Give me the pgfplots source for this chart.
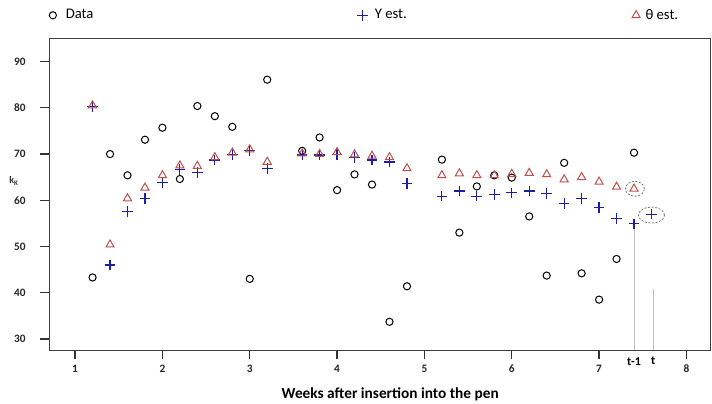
\documentclass[border=0pt]{standalone}
\usepackage{fontspec}
\setmainfont{Carlito}
\usepackage{pgfplots}
\pgfplotsset{compat=1.18}
\usepackage{pgfplotstable}
\usetikzlibrary{calc}
\definecolor{navyc}{HTML}{1E1EA0}
\definecolor{redc}{HTML}{C0504D}

\pgfplotstableread{
x y
1.2 43.3
1.4 70.0
1.6 65.4
1.8 73.1
2.0 75.7
2.2 64.6
2.4 80.4
2.6 78.2
2.8 75.9
3.0 43.0
3.2 86.1
3.6 70.7
3.8 73.6
4.0 62.2
4.2 65.6
4.4 63.4
4.6 33.7
4.8 41.4
5.2 68.8
5.4 53.0
5.6 63.0
5.8 65.4
6.0 64.9
6.2 56.5
6.4 43.7
6.6 68.1
6.8 44.2
7.0 38.5
7.2 47.3
7.4 70.3
}\dataobs

\pgfplotstableread{
x y
1.2 80.3
1.4 46.0
1.6 57.5
1.8 60.4
2.0 63.8
2.2 66.7
2.4 66.0
2.6 68.7
2.8 69.9
3.0 70.7
3.2 66.9
3.6 69.8
3.8 69.8
4.0 69.9
4.2 69.3
4.4 68.7
4.6 68.3
4.8 63.6
5.2 60.9
5.4 62.0
5.6 60.9
5.8 61.3
6.0 61.6
6.2 62.0
6.4 61.5
6.6 59.3
6.8 60.4
7.0 58.4
7.2 56.0
7.4 54.9
7.6 57.0
}\dataY

\pgfplotstableread{
x y
1.2 80.5
1.4 50.4
1.6 60.4
1.8 62.7
2.0 65.4
2.2 67.5
2.4 67.4
2.6 69.3
2.8 70.3
3.0 71.0
3.2 68.3
3.6 70.1
3.8 70.0
4.0 70.4
4.2 69.9
4.4 69.6
4.6 69.3
4.8 66.9
5.2 65.4
5.4 65.8
5.6 65.4
5.8 65.4
6.0 65.7
6.2 65.9
6.4 65.6
6.6 64.5
6.8 65.0
7.0 64.0
7.2 62.9
7.4 62.5
}\dataT

\begin{document}
\begin{tikzpicture}
\begin{axis}[
  name=ax,
  scale only axis,
  width=495.5pt, height=233.8pt,
  xmin=0.705, xmax=8.27,
  ymin=27.6, ymax=95.06,
  xtick={1,2,3,4,5,6,7,8},
  ytick={30,40,50,60,70,80,90},
  tick align=outside,
  tick pos=left,
  major tick length=6.75pt,
  axis line style={black!75, line width=0.6pt},
  every tick/.style={black!80, line width=0.9pt},
  /pgf/number format/assume math mode=true,
  tick label style={font=\bfseries\fontsize{8.5}{10}\selectfont, text=black!85},
  xticklabel style={yshift=-1pt},
  yticklabel style={xshift=-7.5pt},
  clip=false,
  xlabel={\bfseries Weeks after insertion into the pen},
  xlabel style={font=\fontsize{11.5}{13}\selectfont, at={(rel axis cs:0.5,0)}, anchor=north, xshift=7.9pt, yshift=-25pt},
  legend columns=3,
  legend style={draw=none, fill=none, at={(rel axis cs:0,1)}, anchor=west,
    xshift=-0.25pt, yshift=17.25pt, inner sep=0pt,
    font=\fontsize{11}{13}\selectfont,
    /tikz/column 1/.style={column sep=5pt},
    /tikz/column 3/.style={column sep=3pt},
    /tikz/column 5/.style={column sep=2pt},
    /tikz/column 2/.style={column sep=196pt},
    /tikz/column 4/.style={column sep=167pt}},
]
\addplot[black, only marks, mark=o, mark size=2.7pt, mark options={black, line width=0.75pt}] table {\dataobs};
\addlegendentry{Data}
\addplot[navyc, only marks, mark=+, mark size=4pt, mark options={navyc, line width=0.9pt}] table {\dataY};
\addlegendentry{Y est.}
\addplot[redc, only marks, mark=triangle, mark size=3.5pt, mark options={redc, line width=0.75pt}] table {\dataT};
\addlegendentry{θ est.}

\draw[black!25, line width=0.6pt] (axis cs:7.4,54.0) -- (axis cs:7.4,27.6);
\draw[black!25, line width=0.6pt] (axis cs:7.62,40.8) -- (axis cs:7.62,27.6);
\draw[black!55, line width=0.6pt, dash pattern=on 1.5pt off 1.2pt] (axis cs:7.41,62.5) ellipse [x radius=7.1pt, y radius=5.6pt];
\draw[black!55, line width=0.6pt, dash pattern=on 1.5pt off 1.2pt] (axis cs:7.6,56.8) ellipse [x radius=9.75pt, y radius=6pt];
\node[font=\bfseries\fontsize{9}{10}\selectfont, anchor=north] at (axis cs:7.4,27.6) [yshift=-2pt] {t-1};
\node[font=\bfseries\fontsize{9}{10}\selectfont, anchor=north] at (axis cs:7.62,27.6) [yshift=-2pt] {t};
\node[font=\bfseries\fontsize{7.5}{8}\selectfont, text=black!80, xshift=-26.5pt] at (axis cs:0.705,64.2) {k\textsubscript{K}};
\end{axis}
\pgfresetboundingbox
\path[use as bounding box] ($(ax.south west)+(-37pt,-39.75pt)$) rectangle ($(ax.north east)+(1.5pt,28.7pt)$);
\end{tikzpicture}
\end{document}
